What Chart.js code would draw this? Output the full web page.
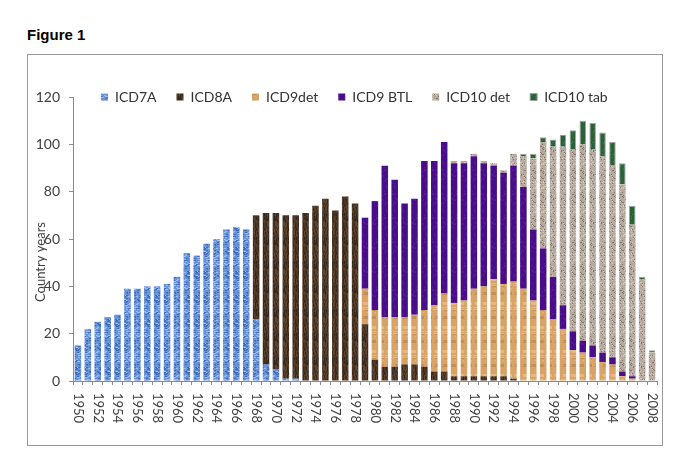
<!DOCTYPE html>
<html>
<head>
<meta charset="utf-8">
<script src="https://cdn.jsdelivr.net/npm/chart.js@4"></script>
<style>
  html, body { margin: 0; padding: 0; background: #fff; }
  #wrap { position: relative; width: 685px; height: 474px; }
  #fig { position: absolute; left: 27px; top: 27px; font: bold 15px "Liberation Sans", Arial, sans-serif; line-height: 15px; color: #000; }
  #frame { position: absolute; left: 27px; top: 54px; width: 634px; height: 390px; border: 1px solid #9a9a9a; }
  canvas { position: absolute; left: 0; top: 0; }
</style>
</head>
<body>
<div id="wrap">
  <div id="fig">Figure 1</div>
  <div id="frame"></div>
  <canvas id="chart" width="685" height="474"></canvas>
</div>
<script>
let years = ['1950','1951','1952','1953','1954','1955','1956','1957','1958','1959',
             '1960','1961','1962','1963','1964','1965','1966','1967','1968','1969',
             '1970','1971','1972','1973','1974','1975','1976','1977','1978','1979',
             '1980','1981','1982','1983','1984','1985','1986','1987','1988','1989',
             '1990','1991','1992','1993','1994','1995','1996','1997','1998','1999',
             '2000','2001','2002','2003','2004','2005','2006','2007','2008'];

let icd7a = [15,22,25,27,28,39,39,40,40,41, 44,54,53,58,60,64,65,64,26,7,
             5,1,1,0,0,0,0,0,0,0, 0,0,0,0,0,0,0,0,0,0,
             0,0,0,0,0,0,0,0,0,0, 0,0,0,0,0,0,0,0,0];
let icd8a = [0,0,0,0,0,0,0,0,0,0, 0,0,0,0,0,0,0,0,44,64,
             66,69,69,71,74,77,72,78,75,24, 9,6,6,7,7,6,4,4,2,2,
             2,2,2,2,1,0,0,0,0,0, 0,0,0,0,0,0,0,0,0];
let icd9det = [0,0,0,0,0,0,0,0,0,0, 0,0,0,0,0,0,0,0,0,0,
               0,0,0,0,0,0,0,0,0,15, 21,21,21,20,21,24,28,33,31,32,
               37,38,41,39,41,39,34,30,26,22, 13,12,10,8,7,2,1,0,0];
let icd9btl = [0,0,0,0,0,0,0,0,0,0, 0,0,0,0,0,0,0,0,0,0,
               0,0,0,0,0,0,0,0,0,30, 46,64,58,48,49,63,61,64,59,58,
               56,52,48,47,49,43,30,26,18,10, 8,5,5,4,3,2,1,0,0];
let icd10det = [0,0,0,0,0,0,0,0,0,0, 0,0,0,0,0,0,0,0,0,0,
                0,0,0,0,0,0,0,0,0,0, 0,0,0,0,0,0,0,0,1,1,
                1,1,1,1,5,13,30,45,55,67, 77,83,83,83,81,79,64,43,12];
let icd10tab = [0,0,0,0,0,0,0,0,0,0, 0,0,0,0,0,0,0,0,0,0,
                0,0,0,0,0,0,0,0,0,0, 0,0,0,0,0,0,0,0,0,0,
                0,0,0,0,0,1,2,2,3,5, 8,10,11,10,10,9,8,1,1];

// small textures so the bars look like the Excel fills
function texture(base, dots, w, h, seed) {
    let c = document.createElement('canvas');
    c.width = w; c.height = h;
    let g = c.getContext('2d');
    g.fillStyle = base;
    g.fillRect(0, 0, w, h);
    let s = seed;
    function next() { s = (s * 1103515245 + 12345) % 2147483648; return s / 2147483648; }
    dots.forEach(function(d) {
        g.fillStyle = d.color;
        for (let i = 0; i < d.n; i++) {
            g.fillRect(Math.floor(next() * w), Math.floor(next() * h), d.w, d.h);
        }
    });
    return g.createPattern(c, 'repeat');
}

let ctx = document.getElementById('chart').getContext('2d');

let fill7a = texture('#6893d6', [{color: '#9dbbea', n: 20, w: 2, h: 1}, {color: '#3f6dbd', n: 24, w: 2, h: 1}], 8, 24, 7);
let fill8a = texture('#4b3523', [{color: '#5f4531', n: 26, w: 1, h: 3}, {color: '#38281b', n: 18, w: 1, h: 3}], 8, 24, 11);
let fill9det = texture('#d9a266', [{color: '#c38f55', n: 8, w: 8, h: 1}, {color: '#e6b77e', n: 8, w: 8, h: 1}], 8, 24, 3);
let fill9btl = texture('#4a0d8a', [{color: '#561a98', n: 14, w: 1, h: 2}], 8, 24, 5);
let fill10det = texture('#b6aa9e', [{color: '#84766a', n: 26, w: 1, h: 1}, {color: '#d3c9bf', n: 26, w: 1, h: 1}], 8, 24, 9);
let fill10tab = texture('#2b6038', [{color: '#447a4f', n: 14, w: 1, h: 1}], 8, 24, 13);

let figurePlugin = {
    id: 'excelLook',
    afterLayout(chart) {
        // legend sits inside the plot, on the line of the 120 tick
        let lg = chart.legend;
        lg.top = 70;
        lg.bottom = lg.top + lg.height;
        lg.left = 81;
    },
    afterDraw(chart) {
        let c = chart.ctx;
        let x = chart.scales.x;
        c.save();
        c.fillStyle = '#404040';
        c.font = '13px Lato';
        c.textAlign = 'left';
        c.textBaseline = 'middle';
        years.forEach(function(yr, i) {
            if (i % 2) return;
            c.save();
            c.translate(x.getPixelForValue(i), 393);
            c.rotate(Math.PI / 2);
            c.fillText(yr, 0, 0);
            c.restore();
        });
        c.translate(41, 262);
        c.rotate(-Math.PI / 2);
        c.textAlign = 'center';
        c.fillText('Country years', 0, 0);
        c.restore();
    }
};

let chart = new Chart(ctx, {
    type: 'bar',
    data: {
        labels: years,
        datasets: [
            { label: 'ICD7A', data: icd7a, backgroundColor: fill7a, borderWidth: 0 },
            { label: 'ICD8A', data: icd8a, backgroundColor: fill8a, borderWidth: 0 },
            { label: 'ICD9det', data: icd9det, backgroundColor: fill9det, borderWidth: 0 },
            { label: 'ICD9 BTL', data: icd9btl, backgroundColor: fill9btl, borderWidth: 0 },
            { label: 'ICD10 det', data: icd10det, backgroundColor: fill10det, borderWidth: 0 },
            { label: 'ICD10 tab', data: icd10tab, backgroundColor: fill10tab, borderColor: '#9ba79d', borderWidth: 1 }
        ]
    },
    plugins: [figurePlugin],
    options: {
        responsive: false,
        animation: false,
        layout: { padding: { left: 0, top: 53, right: 28, bottom: 33 } },
        datasets: { bar: { categoryPercentage: 1, barPercentage: 0.66 } },
        plugins: {
            tooltip: { enabled: false },
            legend: {
                position: 'top',
                align: 'start',
                labels: {
                    boxWidth: 7,
                    boxHeight: 7,
                    padding: 20,
                    color: '#333',
                    font: { family: 'Lato', size: 14 }
                }
            }
        },
        scales: {
            x: {
                stacked: true,
                offset: true,
                afterFit(scale) { scale.height = 60; },
                border: { color: '#8c8c8c' },
                grid: { offset: true, drawOnChartArea: false, drawTicks: true, tickLength: 4, color: '#8c8c8c' },
                ticks: {
                    autoSkip: false,
                    minRotation: 90,
                    maxRotation: 90,
                    color: 'rgba(0,0,0,0)',
                    font: { family: 'Lato', size: 13 },
                    callback: function(v, i) { return i % 2 ? '' : years[i]; }
                }
            },
            y: {
                stacked: true,
                min: 0,
                max: 120,
                afterFit(scale) { scale.width = 73; },
                border: { color: '#8c8c8c' },
                grid: { drawOnChartArea: false, drawTicks: true, tickLength: 4, color: '#8c8c8c' },
                ticks: { stepSize: 20, color: '#404040', padding: 9, font: { family: 'Lato', size: 14 } }
            }
        }
    }
});
</script>
</body>
</html>
